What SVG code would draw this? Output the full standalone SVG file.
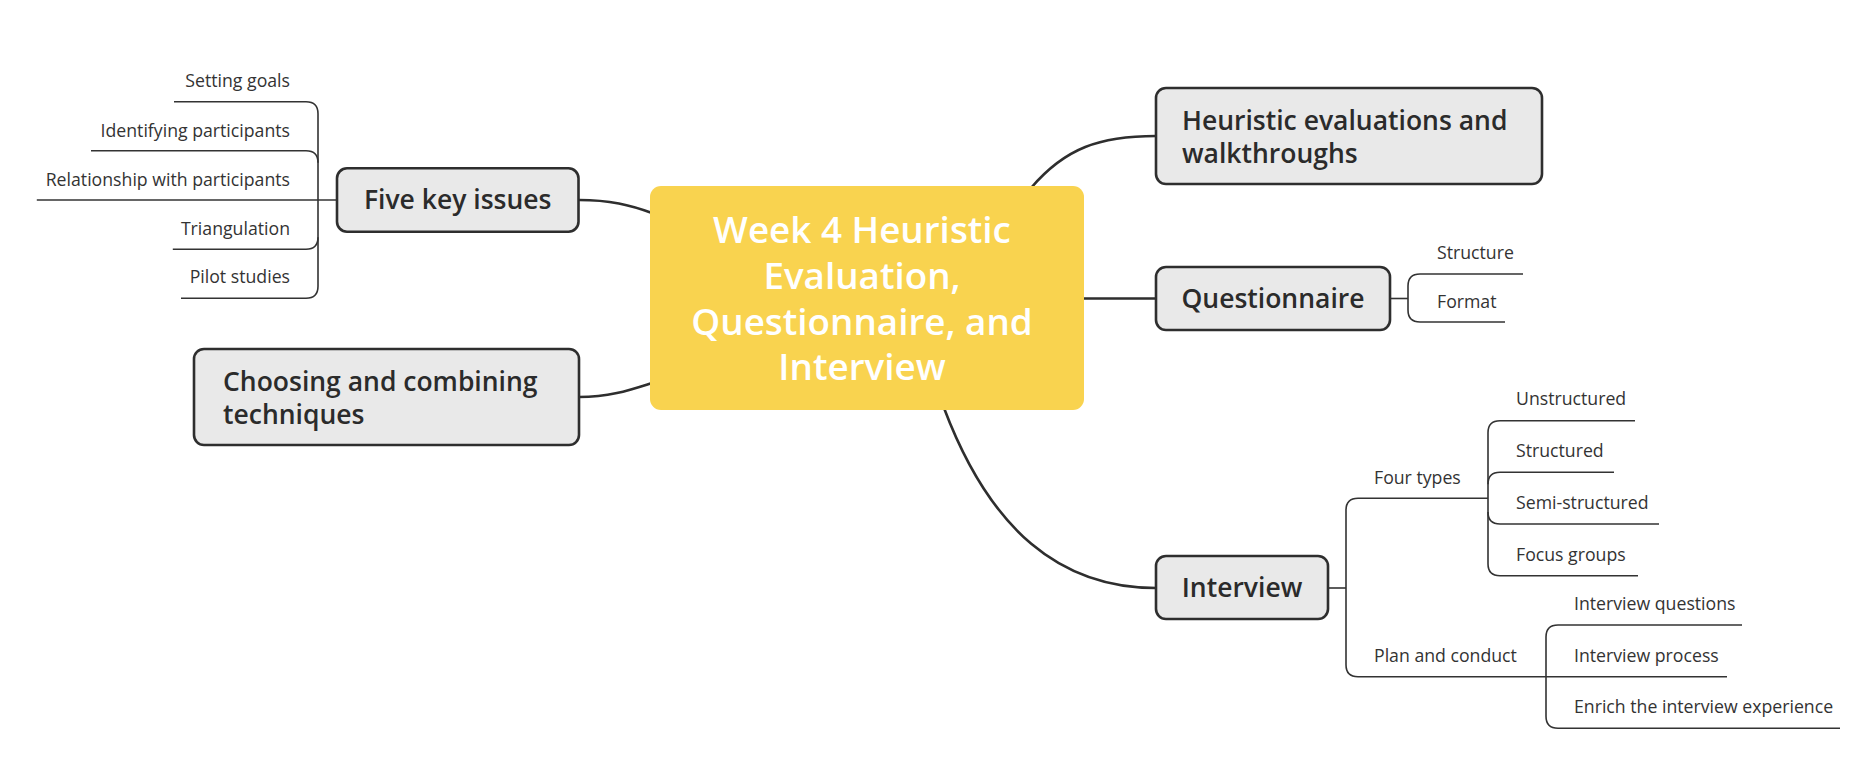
<svg xmlns="http://www.w3.org/2000/svg" width="1859" height="773" viewBox="0 0 1859 773">
<style>
.bg{fill:#ffffff}
.main{fill:none;stroke:#2e2e2e;stroke-width:2.6;stroke-linecap:round}
.sub{fill:none;stroke:#333333;stroke-width:1.6}
.node{fill:#e9e9e9;stroke:#2e2e2e;stroke-width:2.6}
.center{fill:#f9d34f}
.nt{font-family:"Open Sans","Liberation Sans",sans-serif;font-size:26.5px;font-weight:600;fill:#2b2b2b}
.ct{font-family:"Open Sans","Liberation Sans",sans-serif;font-size:36.8px;font-weight:600;fill:#ffffff;text-anchor:middle}
.lt{font-family:"Open Sans","Liberation Sans",sans-serif;font-size:17.7px;fill:#333333}
.r{text-anchor:end}
.m{text-anchor:middle}
</style>
<rect class="bg" x="0" y="0" width="1859" height="773"/>
<g id="connectors">
<path class="main" d="M 579,200 C 610,200 630,205 652,213"/>
<path class="main" d="M 579,397 C 610,397 630,390 652,383"/>
<path class="main" d="M 1031,188 C 1065,148 1100,136 1156,136"/>
<path class="main" d="M 1084,298.5 H 1156"/>
<path class="main" d="M 944,408 C 990,530 1060,588 1156,588"/>
<path class="sub" d="M 36.8,200 H 337"/>
<path class="sub" d="M 174,101.7 H 306 Q 318,101.7 318,113.7 V 286.3 Q 318,298.3 306,298.3 H 181"/>
<path class="sub" d="M 91,150.7 H 306 Q 318,150.7 318,162.7"/>
<path class="sub" d="M 172.8,249.3 H 306 Q 318,249.3 318,237.3"/>
<path class="sub" d="M 1391,298.5 H 1408"/>
<path class="sub" d="M 1523,274 H 1420 Q 1408,274 1408,286 V 310 Q 1408,322 1420,322 H 1505"/>
<path class="sub" d="M 1328,588 H 1346"/>
<path class="sub" d="M 1488,498.3 H 1358 Q 1346,498.3 1346,510.3 V 664.7 Q 1346,676.7 1358,676.7 H 1727"/>
<path class="sub" d="M 1635,420.7 H 1500 Q 1488,420.7 1488,432.7 V 563.7 Q 1488,575.7 1500,575.7 H 1638"/>
<path class="sub" d="M 1614,472.3 H 1500 Q 1488,472.3 1488,484.3"/>
<path class="sub" d="M 1659,524 H 1500 Q 1488,524 1488,512"/>
<path class="sub" d="M 1742,625 H 1558 Q 1546,625 1546,637 V 716.3 Q 1546,728.3 1558,728.3 H 1840"/>
</g>
<g id="central">
<rect class="center" x="650" y="186" width="434" height="224" rx="11"/>
<text class="ct" x="862" y="243">Week 4 Heuristic</text>
<text class="ct" x="862" y="289">Evaluation,</text>
<text class="ct" x="862" y="334.5">Questionnaire, and</text>
<text class="ct" x="862" y="380">Interview</text>
</g>
<g id="five-key-issues">
<rect class="node" x="337" y="168.3" width="241.5" height="63.4" rx="10"/>
<text class="nt m" x="457.7" y="209.3">Five key issues</text>
</g>
<g id="choosing">
<rect class="node" x="194" y="349" width="385" height="96" rx="10"/>
<text class="nt" x="223" y="390.5">Choosing and combining</text>
<text class="nt" x="223" y="423.5">techniques</text>
</g>
<g id="heuristic">
<rect class="node" x="1156" y="88" width="386" height="96" rx="10"/>
<text class="nt" x="1182" y="129.5">Heuristic evaluations and</text>
<text class="nt" x="1182" y="162.5">walkthroughs</text>
</g>
<g id="questionnaire">
<rect class="node" x="1156" y="267" width="234" height="63" rx="10"/>
<text class="nt m" x="1273" y="308">Questionnaire</text>
</g>
<g id="interview">
<rect class="node" x="1156" y="556" width="172" height="63" rx="10"/>
<text class="nt m" x="1242" y="597">Interview</text>
</g>
<g id="five-children">
<text class="lt r" x="290" y="87">Setting goals</text>
<text class="lt r" x="290" y="137">Identifying participants</text>
<text class="lt r" x="290" y="186">Relationship with participants</text>
<text class="lt r" x="290" y="235">Triangulation</text>
<text class="lt r" x="290" y="283">Pilot studies</text>
</g>
<g id="questionnaire-children">
<text class="lt" x="1437" y="259">Structure</text>
<text class="lt" x="1437" y="308">Format</text>
</g>
<g id="interview-children">
<text class="lt" x="1374" y="484">Four types</text>
<text class="lt" x="1516" y="405">Unstructured</text>
<text class="lt" x="1516" y="457">Structured</text>
<text class="lt" x="1516" y="509">Semi-structured</text>
<text class="lt" x="1516" y="561">Focus groups</text>
<text class="lt" x="1374" y="662">Plan and conduct</text>
<text class="lt" x="1574" y="610">Interview questions</text>
<text class="lt" x="1574" y="662">Interview process</text>
<text class="lt" x="1574" y="713">Enrich the interview experience</text>
</g>
</svg>
